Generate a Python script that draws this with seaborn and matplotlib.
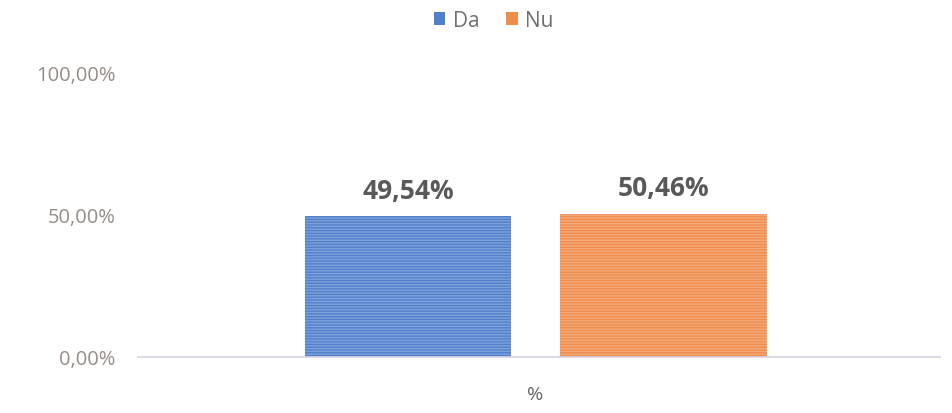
import matplotlib
matplotlib.use("Agg")
import matplotlib.pyplot as plt
import seaborn as sns
import pandas as pd
from matplotlib.patches import Patch

categories = ["%"]
series = ["Da", "Nu"]
values = [49.54, 50.46]
value_labels = ["49,54%", "50,46%"]
y_ticks = [0, 50, 100]
y_tick_labels = ["0,00%", "50,00%", "100,00%"]
colors = ["#5080cc", "#f08c4c"]

df = pd.DataFrame({"cat": categories * len(series), "serie": series, "val": values})

sns.set_theme(style="white")
plt.rcParams["font.family"] = ["Open Sans", "DejaVu Sans"]

fig = plt.figure(figsize=(9.53, 4.14), dpi=100)
ax = fig.add_axes([0.1448, 0.1353, 0.8412, 0.686])

sns.barplot(data=df, x="cat", y="val", hue="serie", palette=colors, width=0.637, gap=0.19,
            ax=ax, legend=False, saturation=1)

for p in ax.patches:
    p.set_hatch("------")
    p.set_edgecolor("#ffffff44")
    p.set_linewidth(0)

for cont, lab in zip(ax.containers, value_labels):
    ax.bar_label(cont, labels=[lab], padding=9, fontsize=19, fontweight="bold", color="#595959")

ax.set_ylim(0, 100)
ax.set_xlim(-0.496, 0.504)
ax.set_yticks(y_ticks)
ax.set_yticklabels(y_tick_labels, color="#978c86", fontsize=14.5)
ax.tick_params(axis="y", length=0, pad=16)
ax.tick_params(axis="x", length=0, pad=20, labelsize=14, labelcolor="#666666")
ax.set_xlabel("")
ax.set_ylabel("")
for s in ["top", "right", "left"]:
    ax.spines[s].set_visible(False)
ax.spines["bottom"].set_color("#d8d0e2")
ax.spines["bottom"].set_linewidth(1.2)

handles = [Patch(facecolor=c, edgecolor="none") for c in colors]
fig.legend(handles, series, loc="center", bbox_to_anchor=(0.518, 0.948), ncol=2, frameon=False,
           fontsize=15, handlelength=0.55, handleheight=0.55, handletextpad=0.35, columnspacing=1.3,
           labelcolor="#707070")

fig.savefig("out.png", dpi=100)
